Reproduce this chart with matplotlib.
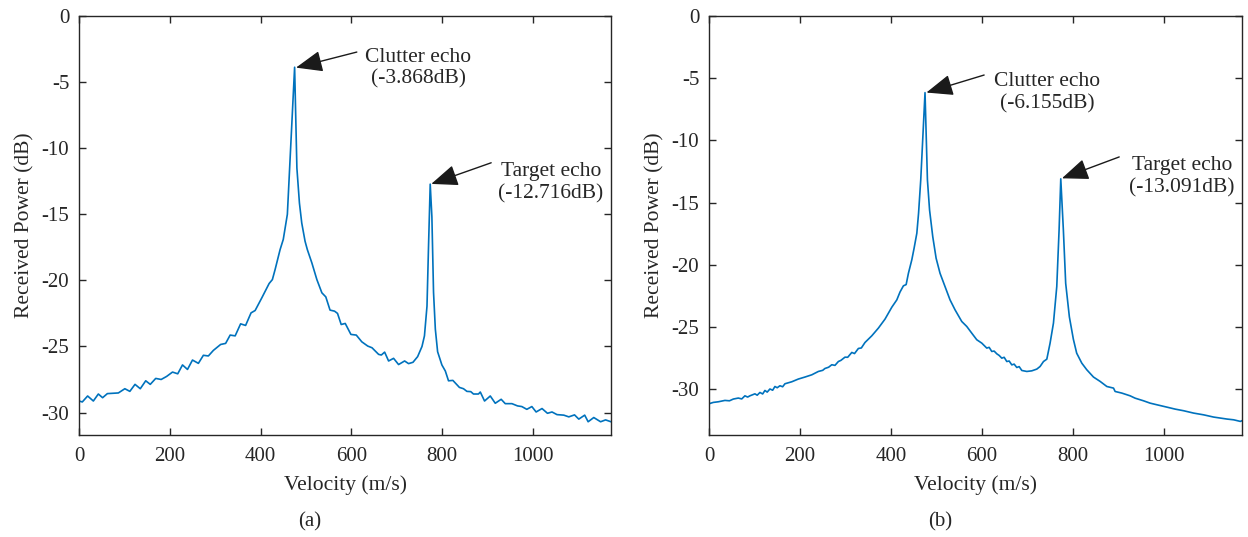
import matplotlib
matplotlib.use('Agg')
import matplotlib.pyplot as plt

plt.rcParams['font.family'] = ['Liberation Serif', 'DejaVu Serif']
plt.rcParams['axes.unicode_minus'] = False

# panel (a): velocity (m/s) and received power (dB)
vel_a = [0, 7.3, 19, 31.6, 42.6, 52, 62.5, 86.7, 101, 112, 123.4, 135, 147, 157, 169, 181,
         193, 206, 217.5, 228, 239, 250, 263, 274, 285, 296, 312, 323, 333, 344, 356, 367,
         379, 388, 402.6, 418.8, 426, 432, 443, 450, 459, 475, 480, 485.6, 490.7, 498, 503,
         513, 524, 535, 543.7, 553, 563, 569.5, 577.6, 586.5, 599, 610.8, 623, 636, 645.5,
         660, 666, 673.3, 682, 693, 704, 717.3, 726, 735.7, 746, 755.6, 761, 766.6, 770,
         773.7, 777.4, 781, 785, 790, 799.4, 807, 814, 823.6, 838, 847, 854.5, 863, 869, 880,
         884, 893.4, 906, 917, 930, 939, 953.7, 966, 975.5, 986.5, 997.6, 1007, 1020, 1032,
         1042, 1053, 1068, 1079, 1091.6, 1101, 1114, 1121.6, 1134, 1149, 1160, 1172]
pow_a = [-29.13, -29.2, -28.75, -29.13, -28.6, -28.88, -28.57, -28.52, -28.2, -28.4, -27.87,
         -28.2, -27.6, -27.87, -27.42, -27.5, -27.27, -26.94, -27.07, -26.4, -26.74, -26.03,
         -26.28, -25.67, -25.72, -25.3, -24.85, -24.77, -24.14, -24.2, -23.29, -23.41, -22.46,
         -22.28, -21.33, -20.24, -19.94, -19.18, -17.67, -16.9, -15.0, -3.868, -11.5, -14.15,
         -15.66, -17.04, -17.67, -18.68, -19.94, -20.94, -21.25, -22.25, -22.33, -22.5, -23.34,
         -23.26, -24.09, -24.14, -24.65, -24.97, -25.1, -25.6, -25.65, -25.43, -26.1, -25.9,
         -26.37, -26.1, -26.3, -26.2, -25.77, -25.0, -24.2, -21.95, -17.4, -12.716, -15.2,
         -20.9, -23.7, -25.4, -26.4, -26.86, -27.6, -27.57, -28.1, -28.2, -28.4, -28.42, -28.6,
         -28.6, -28.45, -29.13, -28.75, -29.3, -29.0, -29.33, -29.33, -29.5, -29.55, -29.76,
         -29.55, -29.96, -29.7, -30.06, -29.96, -30.16, -30.2, -30.33, -30.18, -30.5, -30.2,
         -30.7, -30.38, -30.7, -30.56, -30.7]

# panel (b)
vel_b = [0, 9.5, 20.5, 35, 45, 53.5, 64.5, 72, 79, 85, 90, 101, 106, 112, 118, 123, 128, 134,
         140, 145, 150, 156, 162, 167, 182, 196.5, 211, 226, 240.5, 250, 255, 263, 270, 277,
         284.5, 290, 299, 305, 314, 320, 328.5, 335, 343, 358, 372.5, 387, 402, 413, 420,
         427.5, 433.5, 438.5, 446, 451, 457, 460.8, 465.6, 475, 480.3, 485, 492, 499.4, 508,
         519, 530, 541, 555.8, 566.8, 577.8, 588.8, 599.8, 605, 610.8, 616, 621.8, 627, 632.8,
         638, 643.8, 649, 654.8, 660, 665.8, 671, 676.8, 682, 687.8, 698.8, 709.8, 720.8, 728,
         735.5, 742.8, 750, 757.4, 764.7, 769.8, 773.5, 779.2, 784.3, 792.4, 801.2, 808.5,
         819.7, 830.6, 845.4, 860, 874.8, 889.5, 893, 907.7, 926, 937, 955.4, 970, 984.8,
         1006.8, 1025, 1043.6, 1065.6, 1087.6, 1109.6, 1124.3, 1139, 1153.7, 1168.4, 1172]
pow_b = [-31.19, -31.08, -31.03, -30.92, -30.95, -30.81, -30.73, -30.8, -30.55, -30.65, -30.55,
         -30.39, -30.5, -30.28, -30.4, -30.12, -30.25, -30.0, -30.1, -29.8, -29.9, -29.74,
         -29.82, -29.58, -29.42, -29.2, -29.04, -28.86, -28.59, -28.5, -28.35, -28.25, -28.05,
         -28.1, -27.79, -27.7, -27.44, -27.45, -27.06, -27.15, -26.74, -26.7, -26.26, -25.72,
         -25.1, -24.38, -23.42, -22.83, -22.2, -21.7, -21.6, -20.69, -19.6, -18.67, -17.47,
         -15.86, -13.18, -6.155, -13.18, -15.6, -17.74, -19.48, -20.69, -21.76, -22.83, -23.63,
         -24.57, -24.97, -25.51, -26.04, -26.31, -26.5, -26.71, -26.65, -26.98, -26.95, -27.17,
         -27.3, -27.52, -27.45, -27.79, -27.75, -28.06, -28.0, -28.27, -28.2, -28.51, -28.59,
         -28.54, -28.4, -28.19, -27.79, -27.6, -26.31, -24.7, -21.76, -17.2, -13.091, -17.2,
         -21.5, -24.2, -26.0, -27.12, -27.92, -28.45, -29.04, -29.39, -29.8, -29.93, -30.2,
         -30.33, -30.55, -30.74, -30.95, -31.14, -31.27, -31.46, -31.62, -31.75, -31.94,
         -32.08, -32.26, -32.34, -32.42, -32.48, -32.61, -32.55]

xticks = [0, 200, 400, 600, 800, 1000]
yticks = [0, -5, -10, -15, -20, -25, -30]

# (label, tip, tail, text position) for each annotation
notes_a = [('Clutter echo\n(-3.868dB)', (478, -3.9), (612, -2.72), (747, -3.95)),
           ('Target echo\n(-12.716dB)', (776, -12.7), (908, -11.1), (1040, -12.6))]
notes_b = [('Clutter echo\n(-6.155dB)', (478, -6.15), (605, -4.74), (743, -6.15)),
           ('Target echo\n(-13.091dB)', (776, -13.05), (902, -11.33), (1040, -12.94))]


def draw_panel(ax, vel, pw, ymin, notes):
    ax.plot(vel, pw, color='#0072BD', linewidth=1.2)
    ax.set_xlim(0, 1172)
    ax.set_ylim(ymin, 0)
    ax.set_xticks(xticks)
    ax.set_yticks(yticks)
    ax.tick_params(direction='in', top=True, right=True, length=5, width=1,
                   labelsize=15, colors='#262626')
    ax.tick_params(axis='x', pad=9)
    ax.tick_params(axis='y', pad=7)
    for sp in ax.spines.values():
        sp.set_color('#262626')
        sp.set_linewidth(1)
    ax.set_xlabel('Velocity (m/s)', fontsize=15.5, color='#262626', labelpad=6)
    ax.set_ylabel('Received Power (dB)', fontsize=15.5, color='#262626', labelpad=5)
    for label, tip, tail, pos in notes:
        ax.annotate('', xy=tip, xytext=tail,
                    arrowprops=dict(arrowstyle='-|>,head_length=0.75,head_width=0.3',
                                    color='#1a1a1a', lw=1, shrinkA=0, shrinkB=0,
                                    mutation_scale=22))
        ax.text(pos[0], pos[1], label, ha='center', va='center', fontsize=15.5,
                color='#262626', linespacing=1.2)


fig = plt.figure(figsize=(12.48, 5.37), dpi=100)
ax1 = fig.add_axes([0.0633, 0.19, 0.4263, 0.78])
ax2 = fig.add_axes([0.5681, 0.19, 0.4271, 0.78])
draw_panel(ax1, vel_a, pow_a, -31.7, notes_a)
draw_panel(ax2, vel_b, pow_b, -33.7, notes_b)

fig.text(310 / 1248, 1 - 522 / 537, '(a)', ha='center', va='center', fontsize=15, color='#262626')
fig.text(940 / 1248, 1 - 522 / 537, '(b)', ha='center', va='center', fontsize=15, color='#262626')

fig.savefig('out.png', dpi=100)
